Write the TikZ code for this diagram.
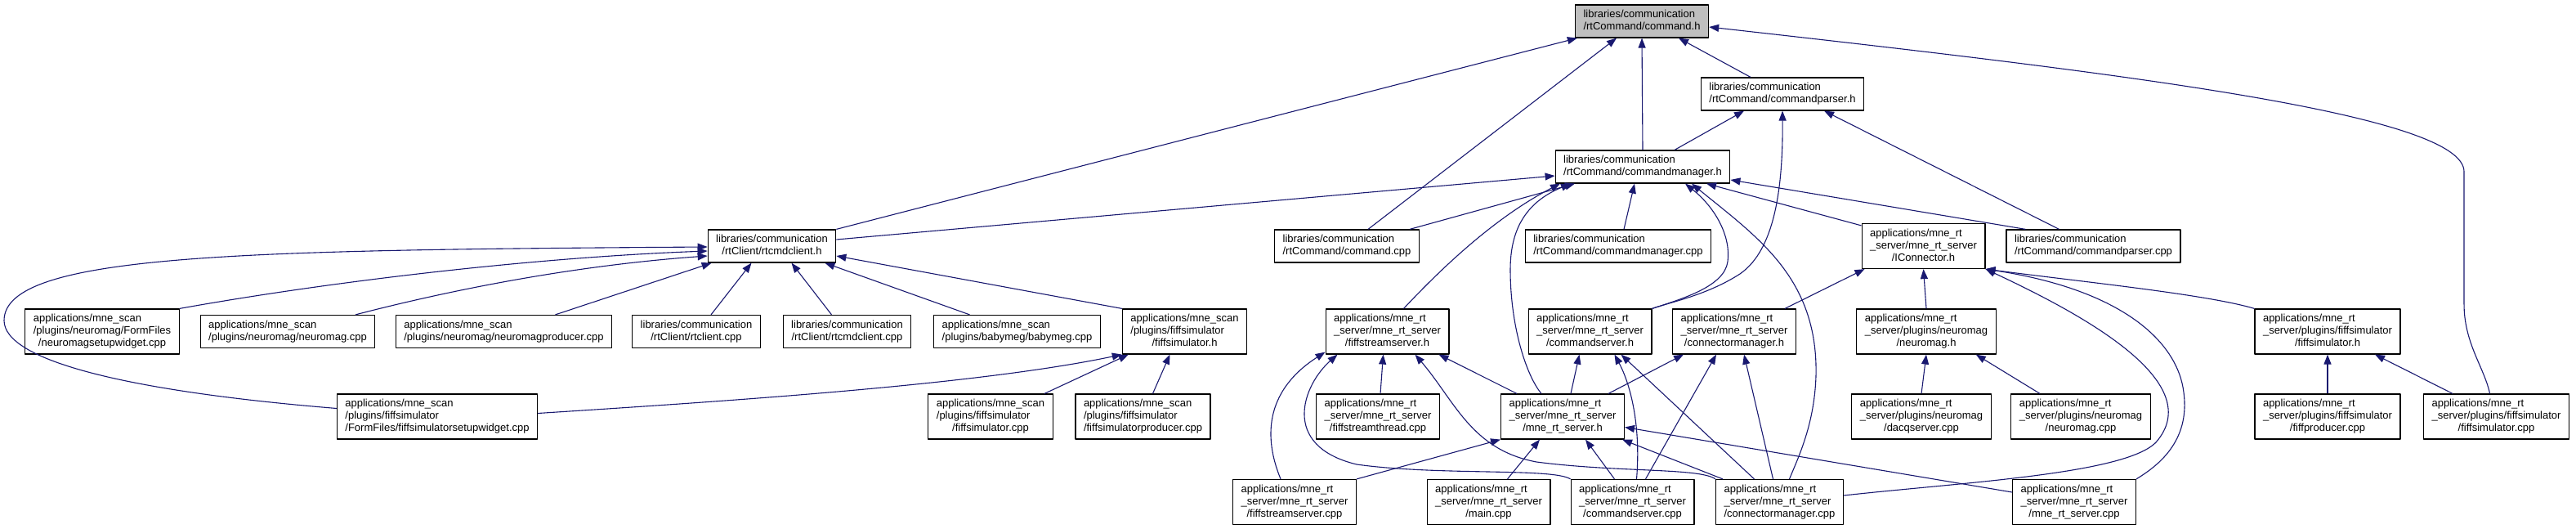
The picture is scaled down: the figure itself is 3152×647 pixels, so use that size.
\documentclass[tikz,border=0pt]{standalone}
\usepackage{fontspec}
\setmainfont{Liberation Sans}
\usetikzlibrary{arrows.meta,calc}
\definecolor{edgeblue}{HTML}{191970}
\definecolor{focusgray}{HTML}{BFBFBF}
% label: left aligned lines, last line centred
\newcommand{\flab}[2]{\begin{tabular}{@{}l@{}}#1\\\multicolumn{1}{@{}c@{}}{#2}\end{tabular}}
\newcommand{\rtsrv}{applications/mne\_rt\\\_server/mne\_rt\_server}
\tikzset{>={Triangle[length=12pt,width=9pt]}}
\tikzset{
  filebox/.style={draw=black, line width=1.2pt, fill=white, inner xsep=10pt, inner ysep=5pt,
    font=\fontsize{13}{15}\selectfont},
  dep/.style={<-, draw=edgeblue, line width=1.1pt}
}

\begin{document}
\begin{tikzpicture}[x=1pt, y=-1pt, line join=round]
  \useasboundingbox (0,0) rectangle (3152,647);

  % Row 0-2
  \node[filebox, fill=focusgray] (cmdh) at (2009,26) {\flab{libraries/communication}{/rtCommand/command.h}};
  \node[filebox] (cmdparserh) at (2181,115) {\flab{libraries/communication}{/rtCommand/commandparser.h}};
  \node[filebox] (cmdmgrh) at (2010,204) {\flab{libraries/communication}{/rtCommand/commandmanager.h}};

  % Row 3
  \node[filebox] (rtcmdclienth) at (944.5,301) {\flab{libraries/communication}{/rtClient/rtcmdclient.h}};
  \node[filebox] (commandcpp) at (1648,301) {\flab{libraries/communication}{/rtCommand/command.cpp}};
  \node[filebox] (cmdmgrcpp) at (1980,301) {\flab{libraries/communication}{/rtCommand/commandmanager.cpp}};
  \node[filebox] (iconnh) at (2353.5,301) {\flab{\rtsrv}{/IConnector.h}};
  \node[filebox] (cmdparsercpp) at (2561.5,301) {\flab{libraries/communication}{/rtCommand/commandparser.cpp}};

  % Row 4
  \node[filebox] (nmsetupcpp) at (125,405.5) {\flab{applications/mne\_scan\\/plugins/neuromag/FormFiles}{/neuromagsetupwidget.cpp}};
  \node[filebox] (nmscancpp) at (352,405.5) {\flab{applications/mne\_scan}{/plugins/neuromag/neuromag.cpp}};
  \node[filebox] (nmprodcpp) at (616.5,405.5) {\flab{applications/mne\_scan}{/plugins/neuromag/neuromagproducer.cpp}};
  \node[filebox] (rtclientcpp) at (852,405.5) {\flab{libraries/communication}{/rtClient/rtclient.cpp}};
  \node[filebox] (rtcmdclientcpp) at (1036.5,405.5) {\flab{libraries/communication}{/rtClient/rtcmdclient.cpp}};
  \node[filebox] (babymegcpp) at (1244.5,405.5) {\flab{applications/mne\_scan}{/plugins/babymeg/babymeg.cpp}};
  \node[filebox] (fsimscanh) at (1449.5,405.5) {\flab{applications/mne\_scan\\/plugins/fiffsimulator}{/fiffsimulator.h}};
  \node[filebox] (fstreamsrvh) at (1697.5,405.5) {\flab{\rtsrv}{/fiffstreamserver.h}};
  \node[filebox] (cmdsrvh) at (1945.5,405.5) {\flab{\rtsrv}{/commandserver.h}};
  \node[filebox] (connmgrh) at (2122,405.5) {\flab{\rtsrv}{/connectormanager.h}};
  \node[filebox] (neuromagh) at (2357,405.5) {\flab{applications/mne\_rt\\\_server/plugins/neuromag}{/neuromag.h}};
  \node[filebox] (fsimrth) at (2848,405.5) {\flab{applications/mne\_rt\\\_server/plugins/fiffsimulator}{/fiffsimulator.h}};

  % Row 5
  \node[filebox] (fsimsetupcpp) at (535,509.5) {\flab{applications/mne\_scan\\/plugins/fiffsimulator}{/FormFiles/fiffsimulatorsetupwidget.cpp}};
  \node[filebox] (fsimscancpp) at (1212,509.5) {\flab{applications/mne\_scan\\/plugins/fiffsimulator}{/fiffsimulator.cpp}};
  \node[filebox] (fsimprodcpp) at (1398.5,509.5) {\flab{applications/mne\_scan\\/plugins/fiffsimulator}{/fiffsimulatorproducer.cpp}};
  \node[filebox] (fstreamthrcpp) at (1686,509.5) {\flab{\rtsrv}{/fiffstreamthread.cpp}};
  \node[filebox] (mnertsrvh) at (1912,509.5) {\flab{\rtsrv}{/mne\_rt\_server.h}};
  \node[filebox] (dacqcpp) at (2351,509.5) {\flab{applications/mne\_rt\\\_server/plugins/neuromag}{/dacqserver.cpp}};
  \node[filebox] (nmrtcpp) at (2546,509.5) {\flab{applications/mne\_rt\\\_server/plugins/neuromag}{/neuromag.cpp}};
  \node[filebox] (fprodcpp) at (2848,509.5) {\flab{applications/mne\_rt\\\_server/plugins/fiffsimulator}{/fiffproducer.cpp}};
  \node[filebox] (fsimrtcpp) at (3054.5,509.5) {\flab{applications/mne\_rt\\\_server/plugins/fiffsimulator}{/fiffsimulator.cpp}};

  % Row 6
  \node[filebox] (fstreamsrvcpp) at (1584,614) {\flab{\rtsrv}{/fiffstreamserver.cpp}};
  \node[filebox] (maincpp) at (1821.5,614) {\flab{\rtsrv}{/main.cpp}};
  \node[filebox] (cmdsrvcpp) at (1997.5,614) {\flab{\rtsrv}{/commandserver.cpp}};
  \node[filebox] (connmgrcpp) at (2177.5,614) {\flab{\rtsrv}{/connectormanager.cpp}};
  \node[filebox] (mnertsrvcpp) at (2538,614) {\flab{\rtsrv}{/mne\_rt\_server.cpp}};

  % command.h
  \draw[dep] ([xshift=3]cmdh.south west) -- (rtcmdclienth.north east);
  \draw[dep] ([xshift=-31]cmdh.south) -- ([xshift=26]commandcpp.north);
  \draw[dep] (cmdh.south) -- (cmdmgrh.north);
  \draw[dep] ([xshift=45]cmdh.south) -- ([xshift=-39]cmdparserh.north);
  \draw[dep] ([yshift=-7]cmdh.east) .. controls (2600,90) and (3015,140) .. (3015,210)
    -- (3015,372) .. controls (3015,420) and (3040,450) .. ([xshift=-8]fsimrtcpp.north);

  % commandparser.h
  \draw[dep] ([xshift=-47]cmdparserh.south) -- ([xshift=39]cmdmgrh.north);
  \draw[dep] (cmdparserh.south) .. controls (2182,250) and (2165,310) .. (2129,335)
    .. controls (2090,360) and (2050,368) .. (cmdsrvh.north east);
  \draw[dep] ([xshift=51]cmdparserh.south) -- ([xshift=-42]cmdparsercpp.north);

  % commandmanager.h
  \draw[dep] ([yshift=-11]cmdmgrh.west) -- ([yshift=8]rtcmdclienth.east);
  \draw[dep] ([xshift=-83]cmdmgrh.south) -- ([xshift=77]commandcpp.north);
  \draw[dep] ([xshift=-101]cmdmgrh.south) .. controls (1850,255) and (1790,300) .. ([xshift=20]fstreamsrvh.north);
  \draw[dep] ([xshift=-88]cmdmgrh.south) .. controls (1860,250) and (1848,290) .. (1848,330)
    .. controls (1848,400) and (1868,460) .. ([xshift=-26]mnertsrvh.north);
  \draw[dep] ([xshift=-10]cmdmgrh.south) -- ([xshift=7]cmdmgrcpp.north);
  \draw[dep] ([xshift=52]cmdmgrh.south) .. controls (2100,255) and (2118,290) .. (2114,320)
    .. controls (2110,350) and (2060,365) .. (cmdsrvh.north east);
  \draw[dep] ([xshift=60]cmdmgrh.south) .. controls (2150,290) and (2225,340) .. (2222,460)
    .. controls (2220,520) and (2200,560) .. ([xshift=12]connmgrcpp.north);
  \draw[dep] ([xshift=78]cmdmgrh.south) -- ([yshift=-3]iconnh.north west);
  \draw[dep] ([yshift=-16]cmdmgrh.east) -- ([xshift=24]cmdparsercpp.north west);

  % rtcmdclient.h
  \draw[dep] ([yshift=-1]rtcmdclienth.west) .. controls (300,306) and (5,310) .. (5,392)
    .. controls (5,440) and (150,478) .. ([yshift=10]fsimsetupcpp.west);
  \draw[dep] ([yshift=-6]rtcmdclienth.west) .. controls (650,315) and (400,345) .. (nmsetupcpp.north east);
  \draw[dep] ([yshift=-12]rtcmdclienth.west) .. controls (700,325) and (550,355) .. ([xshift=83]nmscancpp.north);
  \draw[dep] ([xshift=5]rtcmdclienth.south west) -- ([xshift=63]nmprodcpp.north);
  \draw[dep] ([xshift=-25]rtcmdclienth.south) -- ([xshift=18]rtclientcpp.north);
  \draw[dep] ([xshift=24]rtcmdclienth.south) -- ([xshift=-19]rtcmdclientcpp.north);
  \draw[dep] ([xshift=-14]rtcmdclienth.south east) -- ([xshift=-58]babymegcpp.north);
  \draw[dep] ([yshift=-12]rtcmdclienth.east) -- (fsimscanh.north west);

  % mne_scan fiffsimulator.h
  \draw[dep] (fsimscanh.south west) .. controls (1200,470) and (900,490) .. ([yshift=4]fsimsetupcpp.east);
  \draw[dep] ([xshift=8]fsimscanh.south west) -- ([xshift=66]fsimscancpp.north);
  \draw[dep] ([xshift=-18]fsimscanh.south) -- ([xshift=12]fsimprodcpp.north);

  % fiffstreamserver.h
  \draw[dep] ([yshift=3]fstreamsrvh.south west) .. controls (1560,470) and (1540,520) .. ([xshift=-17]fstreamsrvcpp.north);
  \draw[dep] ([xshift=15]fstreamsrvh.south west) .. controls (1595,470) and (1565,545) .. (1660,568)
    .. controls (1760,582) and (1900,572) .. (cmdsrvcpp.north west);
  \draw[dep] ([xshift=-5]fstreamsrvh.south) -- ([xshift=3]fstreamthrcpp.north);
  \draw[dep] ([xshift=34]fstreamsrvh.south) .. controls (1780,490) and (1800,550) .. (1880,565)
    .. controls (1980,578) and (2080,572) .. (connmgrcpp.north west);
  \draw[dep] ([xshift=-13]fstreamsrvh.south east) -- ([xshift=20]mnertsrvh.north west);

  % commandserver.h
  \draw[dep] ([xshift=-13]cmdsrvh.south) -- ([xshift=10]mnertsrvh.north);
  \draw[dep] ([xshift=30]cmdsrvh.south) .. controls (1995,470) and (2008,520) .. ([xshift=5]cmdsrvcpp.north);
  \draw[dep] ([xshift=38]cmdsrvh.south) -- ([xshift=-31]connmgrcpp.north);

  % connectormanager.h
  \draw[dep] ([xshift=14]connmgrh.south west) -- ([xshift=56]mnertsrvh.north);
  \draw[dep] ([xshift=-22]connmgrh.south) -- ([xshift=16]cmdsrvcpp.north);
  \draw[dep] ([xshift=12]connmgrh.south) -- ([xshift=-8]connmgrcpp.north);

  % mne_rt_server.h
  \draw[dep] (mnertsrvh.south west) -- (fstreamsrvcpp.north east);
  \draw[dep] ([xshift=-28]mnertsrvh.south) -- ([xshift=23]maincpp.north);
  \draw[dep] ([xshift=28]mnertsrvh.south) -- ([xshift=-22]cmdsrvcpp.north);
  \draw[dep] ([xshift=-3]mnertsrvh.south east) -- ([xshift=9]connmgrcpp.north west);
  \draw[dep] ([yshift=-13]mnertsrvh.east) -- ([yshift=12]mnertsrvcpp.west);

  % IConnector.h
  \draw[dep] ([xshift=4]iconnh.south west) -- ([xshift=62]connmgrh.north);
  \draw[dep] (iconnh.south) -- (neuromagh.north);
  \draw[dep] (iconnh.south east) .. controls (2550,345) and (2700,360) .. (fsimrth.north west);
  \draw[dep] (iconnh.south east) .. controls (2560,390) and (2700,470) .. (2638,541)
    .. controls (2600,580) and (2400,590) .. ([yshift=8]connmgrcpp.east);
  \draw[dep] (iconnh.south east) .. controls (2600,355) and (2665,420) .. (2672,480)
    .. controls (2680,540) and (2640,570) .. (mnertsrvcpp.north east);

  % plugins
  \draw[dep] (neuromagh.south) -- (dacqcpp.north);
  \draw[dep] ([xshift=-25]neuromagh.south east) -- ([xshift=-50]nmrtcpp.north);
  \draw[dep] (fsimrth.south) -- (fprodcpp.north);
  \draw[dep] ([xshift=58]fsimrth.south) -- ([xshift=-53.5]fsimrtcpp.north);
\end{tikzpicture}
\end{document}
